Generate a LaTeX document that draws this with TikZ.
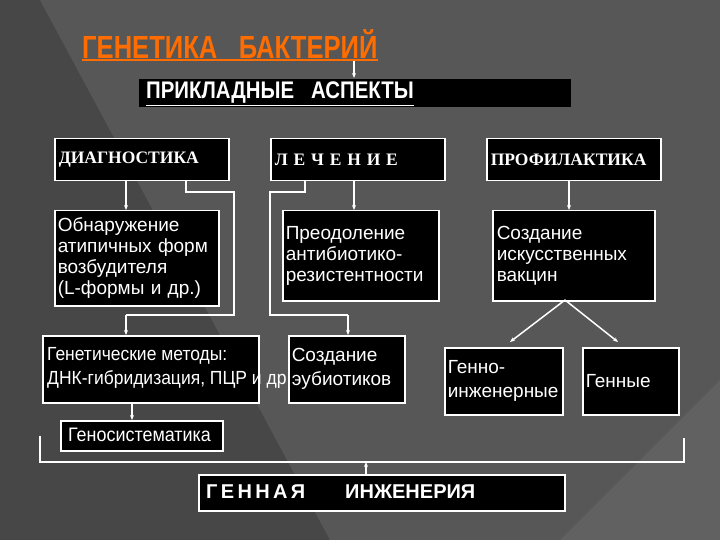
\documentclass[tikz,border=0pt]{standalone}
\usepackage{fontspec}
\setmainfont{Liberation Sans}
\newfontfamily\serifb{Liberation Serif}
\usetikzlibrary{arrows.meta}
\begin{document}
\begin{tikzpicture}[x=1pt,y=-1pt,
  bx/.style={draw=white,line width=1.5pt,fill=black,text=white,inner sep=4pt},
  ln/.style={draw=white,line width=1.5pt},
  ar/.style={ln,-{Stealth[length=5pt,width=4pt]}}]
\useasboundingbox (0,0) rectangle (720,540);
\fill[black!72] (0,0) rectangle (720,540);
\fill[black!66] (0,0) -- (720,0) -- (720,380) -- (560,540) -- (330,540) -- (40,0) -- cycle;
\fill[black!62] (560,540) -- (720,380) -- (720,540) -- cycle;
% title
\node[anchor=west,text=orange!85!red,font=\bfseries\fontsize{32}{34}\selectfont,xscale=0.8,inner sep=0pt] (title) at (82,44) {ГЕНЕТИКА\ \ \ БАКТЕРИЙ};
\draw[orange!85!red,line width=2pt] (82,60) -- (378,60);
\coordinate (ta) at (354,61);
% applied aspects
\node[bx,draw=none,minimum width=432pt,minimum height=28pt,anchor=north west] (pa) at (138,78) {};
\node[anchor=west,text=white,font=\bfseries\fontsize{24}{25}\selectfont,xscale=0.85,inner sep=0pt] (pat) at (146,94) {\underline{ПРИКЛАДНЫЕ\ \ \ АСПЕКТЫ}};
\draw[ar] (ta) -- (pa.north -| ta);
% row 1
\foreach \n/\x/\t in {d/54/ДИАГНОСТИКА,l/270/Л Е Ч Е Н И Е,p/486/ПРОФИЛАКТИКА}
  \node[bx,minimum width=174pt,minimum height=42pt,anchor=north west,text width=166pt,font=\serifb\bfseries\fontsize{17.5}{19}\selectfont] (\n) at (\x,138) {\t};
% row 2
\tikzset{r2/.style={bx,anchor=north west,align=left,font=\fontsize{19}{21}\selectfont,inner sep=3pt}}
\node[r2,minimum width=162pt,minimum height=95pt,text width=158pt] (d2) at (54,210) {Обнаружение\\атипичных форм\\возбудителя\\(L-формы и др.)};
\node[r2,minimum width=156pt,minimum height=90pt,text width=150pt] (l2) at (282,210) {Преодоление\\антибиотико-\\резистентности};
\node[r2,minimum width=162pt,minimum height=90pt,text width=154pt] (p2) at (492,210) {Создание\\искусственных\\вакцин};
\draw[ar] (d.south -| 126,0) -- (d2.north -| 126,0);
\draw[ar] (l.south -| 354,0) -- (l2.north -| 354,0);
\draw[ar] (p.south -| 569,0) -- (p2.north -| 569,0);
% row 3
\tikzset{r3/.style={bx,anchor=north west,align=left,font=\fontsize{19}{24}\selectfont,inner sep=3pt}}
\node[r3,minimum width=216pt,minimum height=67pt] (g) at (42,335) {};
\node[anchor=west,text=white,align=left,font=\fontsize{19}{24}\selectfont,inner sep=0pt,xscale=0.92] (gt) at (47,368) {Генетические методы:\\ДНК-гибридизация, ПЦР и др.};
\node[r3,minimum width=114pt,minimum height=67pt,text width=110pt] (e) at (288,335) {Создание\\эубиотиков};
\node[r3,minimum width=114pt,minimum height=67pt,text width=112pt] (gi) at (444,347) {Генно-\\инженерные};
\node[r3,minimum width=96pt,minimum height=67pt,text width=90pt] (gn) at (582,347) {Генные};
\draw[ln] (d.south -| 186,0) |- (234,192) -- (234,315) -| (126,315);
\draw[ar] (126,315) -- (g.north -| 126,0);
\draw[ln] (l.south -| 305,0) |- (270,192) -- (270,315) -| (348,315);
\draw[ar] (348,315) -- (e.north -| 348,0);
\coordinate (pv) at (565,300);
\draw[ar] (pv) -- (510,342);
\draw[ar] (pv) -- (618,342);
% geno
\node[bx,anchor=north west,minimum width=162pt,minimum height=30pt] (gs) at (60,420) {};
\node[anchor=west,text=white,font=\fontsize{19.5}{21}\selectfont,inner sep=0pt,xscale=0.92] (gst) at (68,435) {Геносистематика};
\draw[ar] (g.south -| 132,0) -- (gs.north -| 132,0);
% bracket
\draw[ln] (40,436) -- (40,462) -- (684,462) -- (684,438);
\node[bx,anchor=north west,minimum width=366pt,minimum height=36pt] (ge) at (198,474) {};
\node[anchor=west,text=white,font=\bfseries\fontsize{20}{22}\selectfont,inner sep=0pt] (get) at (206,492) {Г\,Е\,Н\,Н\,А\,Я\qquad ИНЖЕНЕРИЯ};
\coordinate (br) at (366,462);
\draw[ar] (ge.north -| br) -- (br);
\end{tikzpicture}
\end{document}
